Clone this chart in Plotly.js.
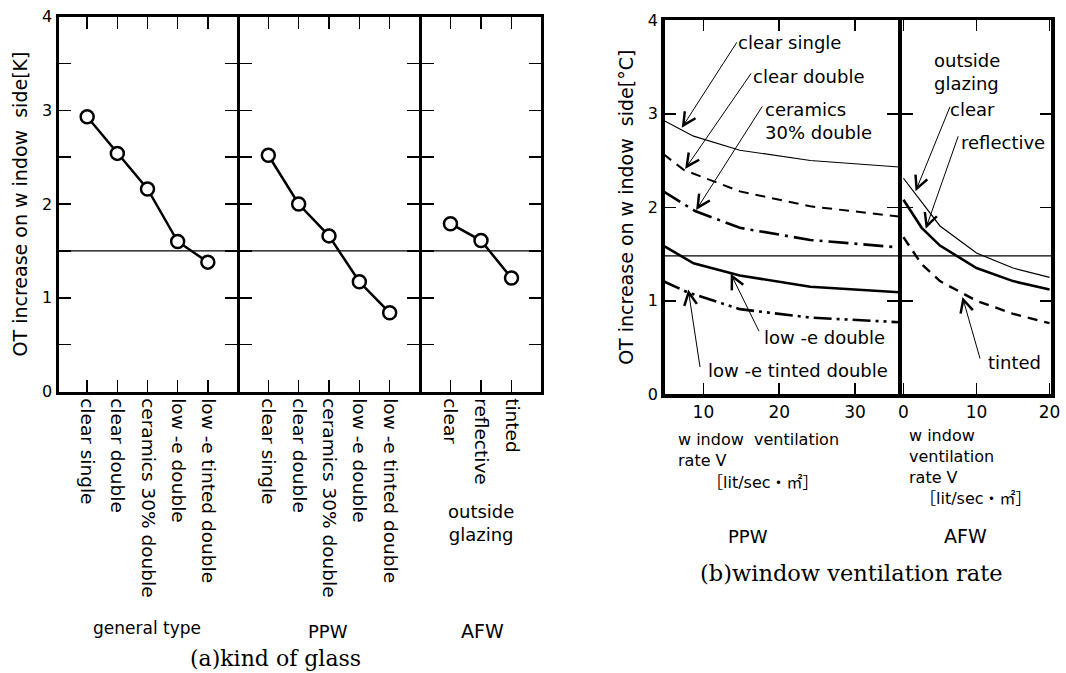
<!DOCTYPE html>
<html>
<head>
<meta charset="utf-8">
<script src="https://cdn.plot.ly/plotly-3.0.1.min.js"></script>
<style>html,body{margin:0;padding:0;background:#fff;}</style>
</head>
<body>
<div id="chart" style="width:1066px;height:673px;"></div>
<script>
// ---------- DATA ----------
// (a) kind of glass
const generalCats = ['clear single', 'clear double', 'ceramics 30% double', 'low -e double', 'low -e tinted double'];
const generalVals = [2.93, 2.54, 2.16, 1.60, 1.38];
const ppwCats = ['clear single', 'clear double', 'ceramics 30% double', 'low -e double', 'low -e tinted double'];
const ppwVals = [2.52, 2.00, 1.66, 1.17, 0.84];
const afwCats = ['clear', 'reflective', 'tinted'];
const afwVals = [1.79, 1.61, 1.21];
const refLineA = 1.5;

// (b) window ventilation rate - PPW
const ppwV_clearSingle = [4.7, 8.7, 14.8, 24.1, 35.9];
const ppwY_clearSingle = [2.93, 2.76, 2.61, 2.50, 2.43];
const ppwV_clearDouble = [4.7, 7.4, 14.8, 24.1, 35.9];
const ppwY_clearDouble = [2.57, 2.40, 2.17, 2.01, 1.90];
const ppwV_ceramics = [4.7, 8.9, 14.8, 24.1, 35.9];
const ppwY_ceramics = [2.17, 1.96, 1.78, 1.65, 1.57];
const ppwV_lowe = [4.7, 8.7, 14.8, 24.1, 35.9];
const ppwY_lowe = [1.59, 1.40, 1.27, 1.15, 1.09];
const ppwV_loweTinted = [4.7, 7.9, 14.8, 24.1, 35.9];
const ppwY_loweTinted = [1.21, 1.09, 0.91, 0.82, 0.77];
// (b) AFW
const afwV_clear = [0, 5, 10, 15, 20];
const afwY_clear = [2.31, 1.80, 1.51, 1.35, 1.25];
const afwV_reflective = [0, 2.5, 5, 10, 15, 20];
const afwY_reflective = [2.08, 1.78, 1.59, 1.35, 1.21, 1.12];
const afwV_tinted = [0, 2.5, 5, 10, 15, 20];
const afwY_tinted = [1.68, 1.39, 1.21, 1.00, 0.86, 0.76];
const refLineB = 1.48;

const yTicksA = [0, 0.5, 1, 1.5, 2, 2.5, 3, 3.5, 4];
const yTickTextA = ['0', '', '1', '', '2', '', '3', '', '4'];
const yTicksB = [0, 1, 2, 3, 4];
const yTickTextB = ['0', '1', '2', '3', '4'];
const xTicksPPW = [10, 20, 30];
const xTicksAFW = [0, 10, 20];

// ---------- LAYOUT HELPERS ----------
const W = 1066, H = 673;
const px = v => v / W;
const py = v => 1 - v / H;
const SANS = 'DejaVu Sans, Noto Sans CJK JP, sans-serif';
const SERIF = 'DejaVu Serif, Liberation Serif, serif';
const BLK = '#000';
const LWA = 3, LWB = 3.5;

const markerStyle = {symbol: 'circle', size: 13, color: '#fff', line: {color: BLK, width: 2.5}};
function catTrace(xs, ys, xa, ya) {
  return {x: xs, y: ys, xaxis: xa, yaxis: ya, type: 'scatter', mode: 'lines+markers',
    line: {color: BLK, width: 2.5}, marker: markerStyle, hoverinfo: 'skip'};
}
function lineTrace(xs, ys, xa, ya, width, dash) {
  return {x: xs, y: ys, xaxis: xa, yaxis: ya, type: 'scatter', mode: 'lines',
    line: {color: BLK, width: width, dash: dash}, hoverinfo: 'skip'};
}

const data = [
  catTrace(generalCats, generalVals, 'x', 'y'),
  catTrace(ppwCats, ppwVals, 'x4', 'y4'),
  catTrace(afwCats, afwVals, 'x5', 'y5'),
  lineTrace(ppwV_clearSingle, ppwY_clearSingle, 'x2', 'y2', 1.2, 'solid'),
  lineTrace(ppwV_clearDouble, ppwY_clearDouble, 'x2', 'y2', 2, '10px,7px'),
  lineTrace(ppwV_ceramics, ppwY_ceramics, 'x2', 'y2', 2.6, '20px,6px,3px,6px'),
  lineTrace(ppwV_lowe, ppwY_lowe, 'x2', 'y2', 2.6, 'solid'),
  lineTrace(ppwV_loweTinted, ppwY_loweTinted, 'x2', 'y2', 2.6, '18px,5px,3px,5px,3px,5px'),
  lineTrace(afwV_clear, afwY_clear, 'x3', 'y3', 1.2, 'solid'),
  lineTrace(afwV_reflective, afwY_reflective, 'x3', 'y3', 2.6, 'solid'),
  lineTrace(afwV_tinted, afwY_tinted, 'x3', 'y3', 2.4, '10px,7px')
];

const tickFont = {family: SANS, size: 16, color: BLK};
function yAx(domain, anchor, vals, texts, showLabels, lw, tl, titleText) {
  const a = {domain: domain, anchor: anchor, range: [0, 4], tickmode: 'array', tickvals: vals, ticktext: texts,
    ticks: 'inside', ticklen: tl, tickwidth: 1.5, tickcolor: BLK, showline: true, linewidth: lw, linecolor: BLK,
    mirror: 'ticks', showgrid: false, zeroline: false, showticklabels: showLabels, tickfont: tickFont,
    automargin: false, fixedrange: true};
  if (titleText) a.title = {text: titleText, font: {family: SANS, size: 19, color: BLK}, standoff: 10};
  return a;
}
function xCat(domain, anchor, n) {
  const d = 0.05;
  return {domain: domain, anchor: anchor, type: 'category', range: [-1 + d, n - d], ticks: 'inside', ticklen: 12,
    tickwidth: 1.5, tickcolor: BLK, showline: true, linewidth: LWA, linecolor: BLK, mirror: 'ticks',
    showgrid: false, zeroline: false, tickangle: 90, tickfont: {family: SANS, size: 18.5, color: BLK},
    automargin: false, fixedrange: true};
}
function xLin(domain, anchor, range, vals) {
  return {domain: domain, anchor: anchor, range: range, tickmode: 'array', tickvals: vals,
    ticks: 'inside', ticklen: 11, tickwidth: 1.5, tickcolor: BLK, showline: true, linewidth: LWB, linecolor: BLK,
    mirror: 'ticks', showgrid: false, zeroline: false, tickfont: {family: SANS, size: 17, color: BLK},
    automargin: false, fixedrange: true};
}

// frame line centres (pixels); domains sit inside them by half a line width
const hA = LWA / 2, hB = LWB / 2;
const domYA = [py(393 - hA), py(15 + hA)];
const domYB = [py(396 - hB), py(18.5 + hB)];

function refShape(xref, yref, val) {
  return {type: 'line', xref: xref + ' domain', x0: 0, x1: 1, yref: yref, y0: val, y1: val,
    line: {color: BLK, width: 1.2}, layer: 'below'};
}

function txt(text, x, y, size, xanchor, family) {
  return {text: text, x: px(x), y: py(y), xref: 'paper', yref: 'paper', showarrow: false,
    xanchor: xanchor || 'left', yanchor: 'middle', align: xanchor === 'center' ? 'center' : 'left',
    font: {family: family || SANS, size: size, color: BLK}};
}
function arrow(xref, yref, x, y, ax, ay) {
  return {text: '', x: x, y: y, xref: xref, yref: yref, showarrow: true, arrowhead: 5, arrowsize: 2.5,
    arrowwidth: 1, arrowcolor: BLK, ax: ax, ay: ay, standoff: 0};
}

const annotations = [
  // (a)
  txt('outside<br>glazing', 481, 522.5, 18, 'center'),
  txt('general type', 147, 628, 17, 'center'),
  txt('PPW', 327.5, 631, 18, 'center'),
  txt('AFW', 482, 631, 19, 'center'),
  txt('(a)kind of glass', 275, 658, 22, 'center', SERIF),
  // (b) curve labels
  txt('clear single', 736, 42, 18),
  txt('clear double', 751, 76, 18),
  txt('ceramics<br>30% double', 763, 121, 18),
  txt('low -e double', 762, 337, 18),
  txt('low -e tinted double', 706, 370, 18),
  txt('outside<br>glazing', 932, 72, 18),
  txt('clear', 948, 110, 18),
  txt('reflective', 959, 142, 18),
  txt('tinted', 986, 362, 18),
  // arrows
  arrow('x2', 'y2', 7.15, 2.85, 56, -87),
  arrow('x2', 'y2', 7.59, 2.41, 67, -97),
  arrow('x2', 'y2', 9.04, 1.97, 67, -105),
  arrow('x2', 'y2', 13.6, 1.29, 29, 59),
  arrow('x2', 'y2', 8.0, 1.12, 12, 79),
  arrow('x3', 'y3', 1.66, 2.17, 35, -86),
  arrow('x3', 'y3', 3.05, 1.77, 33, -94),
  arrow('x3', 'y3', 8.08, 1.04, 18, 63),
  // (b) axis labels
  txt('w indow \u00a0ventilation<br>rate V', 676, 450, 16),
  txt('［lit/sec・㎡］', 705, 482, 16),
  txt('w indow<br>ventilation<br>rate V', 907, 456, 16),
  txt('［lit/sec・㎡］', 918, 498, 16),
  txt('PPW', 748, 536, 18, 'center'),
  txt('AFW', 965.5, 536, 19, 'center'),
  txt('(b)window ventilation rate', 851, 573, 22.5, 'center', SERIF)
];

const layout = {
  width: W, height: H, margin: {l: 0, r: 0, t: 0, b: 0}, paper_bgcolor: '#fff', plot_bgcolor: 'rgba(0,0,0,0)',
  showlegend: false, font: {family: SANS, color: BLK},
  xaxis: xCat([px(57 + hA), px(238 - hA)], 'y', 5),
  xaxis4: xCat([px(238 + hA), px(420 - hA)], 'y4', 5),
  xaxis5: xCat([px(420 + hA), px(542 - hA)], 'y5', 3),
  yaxis: yAx(domYA, 'x', yTicksA, yTickTextA, true, LWA, 12, 'OT increase on w indow \u00a0side[K]'),
  yaxis4: yAx(domYA, 'x4', yTicksA, yTickTextA, false, LWA, 12),
  yaxis5: yAx(domYA, 'x5', yTicksA, yTickTextA, false, LWA, 12),
  xaxis2: xLin([px(663 + hB), px(900 - hB)], 'y2', [4.9, 35.7], xTicksPPW),
  xaxis3: xLin([px(900 + hB), px(1053 - hB)], 'y3', [-0.23, 20.23], xTicksAFW),
  yaxis2: yAx(domYB, 'x2', yTicksB, yTickTextB, true, LWB, 11, 'OT increase on w indow \u00a0side[°C]'),
  yaxis3: yAx(domYB, 'x3', yTicksB, yTickTextB, false, LWB, 11),
  shapes: [
    refShape('x', 'y', refLineA), refShape('x4', 'y4', refLineA), refShape('x5', 'y5', refLineA),
    refShape('x2', 'y2', refLineB), refShape('x3', 'y3', refLineB)
  ],
  annotations: annotations
};

Plotly.newPlot('chart', data, layout, {staticPlot: true, displayModeBar: false});
</script>
</body>
</html>
